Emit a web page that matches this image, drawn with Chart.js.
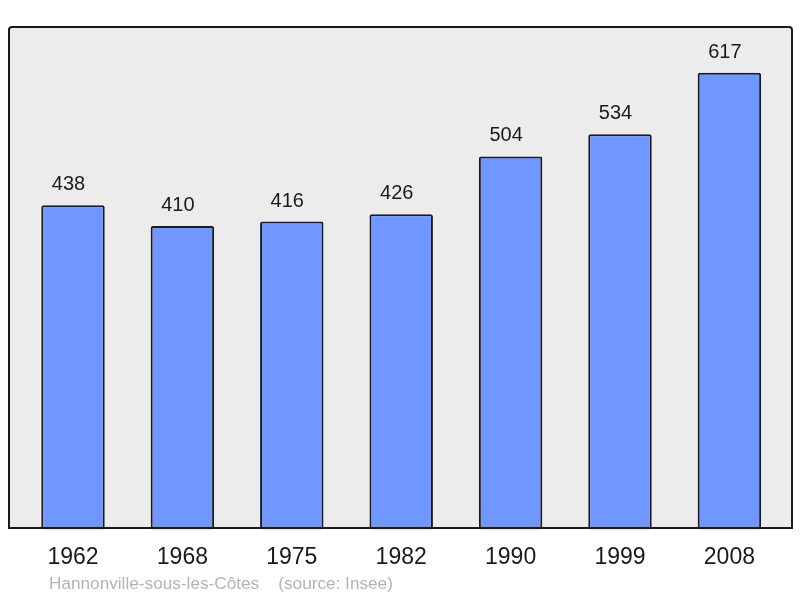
<!DOCTYPE html>
<html>
<head>
<meta charset="utf-8">
<script src="https://cdn.jsdelivr.net/npm/chart.js@4/dist/chart.umd.min.js"></script>
<style>
html,body{margin:0;padding:0;background:#fff;}
#wrap{width:800px;height:598px;position:relative;}
</style>
</head>
<body>
<div id="wrap"><canvas id="c" width="800" height="598"></canvas></div>
<script>
const years = ["1962","1968","1975","1982","1990","1999","2008"];
const population = [438,410,416,426,504,534,617];
const sourceText = "Hannonville-sous-les-Côtes    (source: Insee)";

const FONT = "'Liberation Sans', Arial, sans-serif";

function boxPath(ctx) {
  const x0 = 9, y0 = 27, x1 = 792, y1 = 528, r = 3;
  ctx.beginPath();
  ctx.moveTo(x0 + r, y0);
  ctx.lineTo(x1 - r, y0);
  ctx.quadraticCurveTo(x1, y0, x1, y0 + r);
  ctx.lineTo(x1, y1);
  ctx.lineTo(x0, y1);
  ctx.lineTo(x0, y0 + r);
  ctx.quadraticCurveTo(x0, y0, x0 + r, y0);
  ctx.closePath();
}

const boxPlugin = {
  id: 'box',
  beforeDraw(chart) {
    const ctx = chart.ctx;
    ctx.save();
    boxPath(ctx);
    ctx.fillStyle = '#ececec';
    ctx.fill();
    ctx.restore();
  },
  afterDatasetsDraw(chart) {
    const ctx = chart.ctx;
    ctx.save();
    boxPath(ctx);
    ctx.lineWidth = 2;
    ctx.strokeStyle = '#1a1a1a';
    ctx.stroke();

    const meta = chart.getDatasetMeta(0);
    ctx.fillStyle = '#1a1a1a';
    ctx.font = '20px ' + FONT;
    ctx.textAlign = 'center';
    ctx.textBaseline = 'alphabetic';
    meta.data.forEach((bar, i) => {
      ctx.fillText(String(population[i]), bar.x - 4.5, bar.y - 15);
    });

    ctx.fillStyle = '#b3b3b3';
    ctx.font = '17.2px ' + FONT;
    ctx.textAlign = 'left';
    ctx.textBaseline = 'middle';
    ctx.fillText(sourceText, 49, 584);
    ctx.restore();
  }
};

new Chart(document.getElementById('c'), {
  type: 'bar',
  data: {
    labels: years,
    datasets: [{
      data: population,
      backgroundColor: '#7096ff',
      borderColor: '#1a1a1a',
      borderWidth: 2,
      borderRadius: 2,
      borderSkipped: false,
      barPercentage: 0.58,
      categoryPercentage: 1.0
    }]
  },
  options: {
    responsive: false,
    animation: false,
    devicePixelRatio: 1,
    layout: { padding: { left: 18.3, right: 15.9, top: 27, bottom: 13 } },
    plugins: { legend: { display: false }, tooltip: { enabled: false }, title: { display: false } },
    scales: {
      x: {
        offset: true,
        grid: { display: false, drawTicks: false },
        border: { display: false },
        ticks: { color: '#1a1a1a', font: { family: FONT, size: 23 }, padding: 14, maxRotation: 0 }
      },
      y: {
        display: false,
        min: 0,
        max: 679
      }
    }
  },
  plugins: [boxPlugin]
});
</script>
</body>
</html>
